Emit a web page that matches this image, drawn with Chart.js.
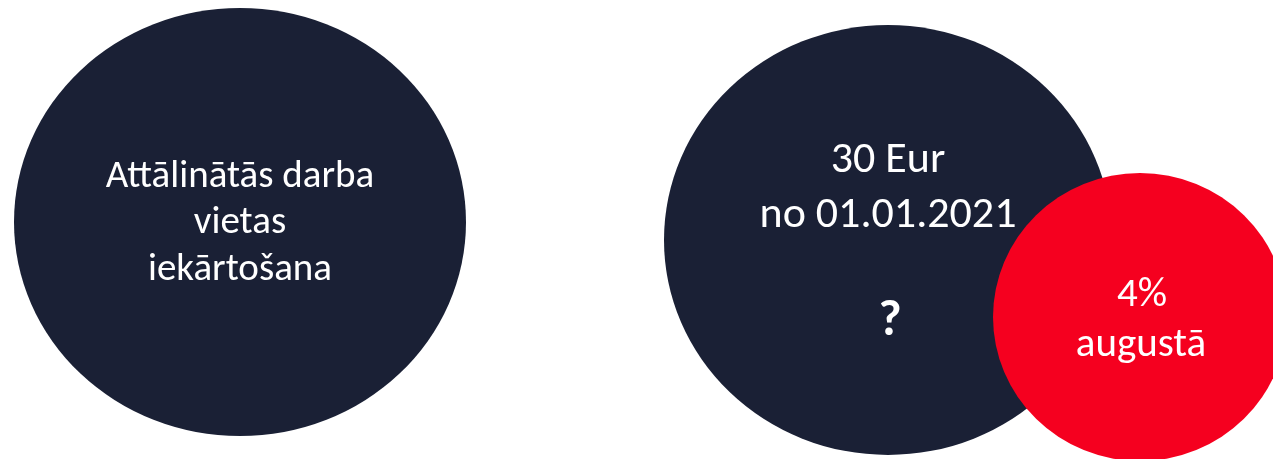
<!DOCTYPE html>
<html>
<head>
<meta charset="utf-8">
<script src="https://cdn.jsdelivr.net/npm/chart.js@4/dist/chart.umd.min.js"></script>
<style>
  html, body { margin: 0; padding: 0; background: #ffffff; overflow: hidden; }
  canvas { display: block; }
</style>
</head>
<body>
<canvas id="c" width="1273" height="459" style="width:1273px;height:459px"></canvas>
<script>
// ---- data (diagram units: same frame as the 1273 x 459 picture) ----
const categories = ["Attālinātās darba vietas iekārtošana", "30 Eur no 01.01.2021 ?", "4% augustā"];
const centerX = [240, 888, 1140];
const centerY = [222, 240, 317];
const radiusX = [226, 224, 147];
const radiusY = [214, 215, 144];
const textLines = [
  ["Attālinātās darba", "vietas", "iekārtošana"],
  ["30 Eur", "no 01.01.2021", "?"],
  ["4%", "augustā"]
];

// ---- styles ----
const fills = ["#1A2035", "#1A2035", "#F5001F"];
const FONT = "Calibri, Carlito, Lato, sans-serif";
const lineStyles = [
  [{dy: -35, size: 39, w: 400}, {dy: 11, size: 39, w: 400}, {dy: 58, size: 39, w: 400}],
  [{dy: -68, size: 44, w: 400}, {dy: -13, size: 44, w: 400}, {dy: 95, size: 50, w: 700, dx: 2}],
  [{dy: -11, size: 41, w: 400, dx: 2}, {dy: 39, size: 41, w: 400, dx: 1}]
];

const ellipsePlugin = {
  id: 'ellipses',
  beforeDatasetDraw(chart, args) {
    const ctx = chart.ctx;
    const xs = chart.scales.x, ys = chart.scales.y;
    const ds = chart.data.datasets[args.index];
    const i = ds.idx;
    ds.data.forEach(d => {
      const px = xs.getPixelForValue(d.x);
      const py = ys.getPixelForValue(d.y);
      const rx = Math.abs(xs.getPixelForValue(d.x + d.rx) - px);
      const ry = Math.abs(ys.getPixelForValue(d.y + d.ry) - py);
      ctx.save();
      ctx.beginPath();
      ctx.ellipse(px, py, rx, ry, 0, 0, Math.PI * 2);
      ctx.fillStyle = ds.backgroundColor;
      ctx.fill();
      ctx.fillStyle = '#ffffff';
      ctx.textAlign = 'center';
      ctx.textBaseline = 'alphabetic';
      textLines[i].forEach((t, k) => {
        const st = lineStyles[i][k];
        ctx.font = st.w + ' ' + st.size + 'px ' + FONT;
        ctx.fillText(t, px + (st.dx || 0), py + st.dy);
      });
      ctx.restore();
    });
    return false;
  }
};

const datasets = categories.map((c, i) => ({
  label: c,
  idx: i,
  order: -i,
  backgroundColor: fills[i],
  clip: false,
  data: [{x: centerX[i], y: centerY[i], r: radiusY[i], rx: radiusX[i], ry: radiusY[i]}]
}));

new Chart(document.getElementById('c'), {
  type: 'bubble',
  data: { datasets },
  options: {
    responsive: false,
    maintainAspectRatio: false,
    devicePixelRatio: 1,
    animation: false,
    layout: { padding: 0, autoPadding: false },
    plugins: { legend: { display: false }, tooltip: { enabled: false } },
    scales: {
      x: { type: 'linear', min: 0, max: 1273, display: false },
      y: { type: 'linear', min: 0, max: 459, reverse: true, display: false }
    }
  },
  plugins: [ellipsePlugin]
});
</script>
</body>
</html>
